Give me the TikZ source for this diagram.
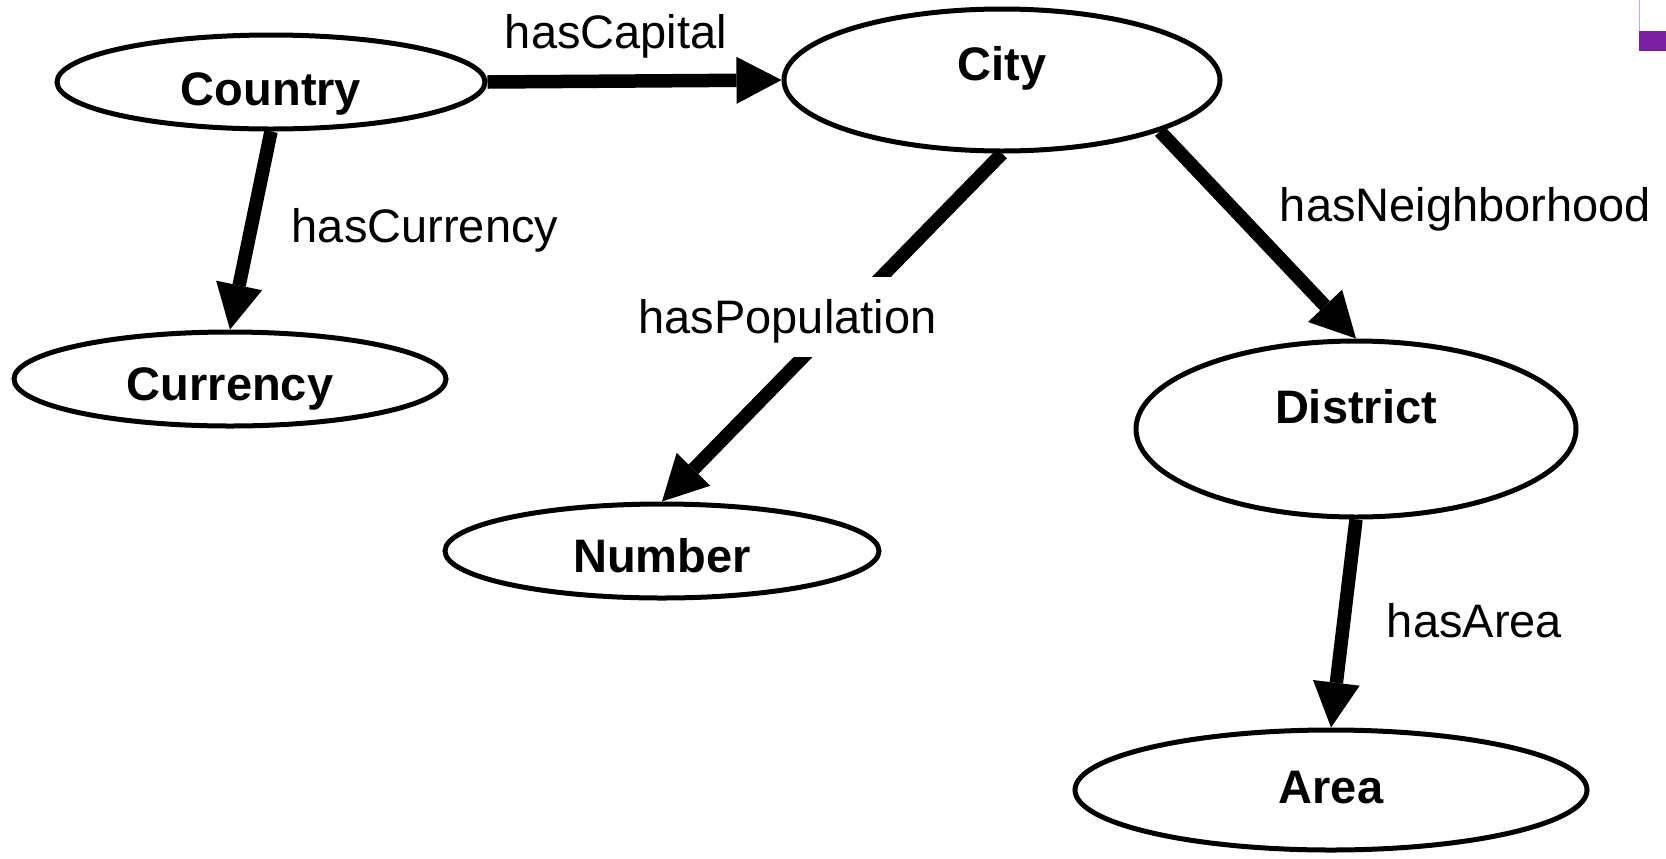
\documentclass[tikz,border=0pt]{standalone}
\usepackage{fontspec}
\setmainfont{Liberation Sans}
\usetikzlibrary{arrows.meta,shapes.geometric}
\definecolor{accent}{HTML}{7B1FA2}
\definecolor{accentlight}{HTML}{C9A9D9}
\begin{document}
\begin{tikzpicture}[x=0.5pt,y=-0.5pt,
  entity/.style={draw, ellipse, line width=2.5pt, inner sep=0pt,
    text height=0pt, text depth=0pt,
    font=\fontsize{23.5}{28}\selectfont\bfseries},
  conn/.style={line width=6.75pt,
    -{Triangle[length=22.5pt,width=23.5pt,line width=0pt]}},
  rel/.style={font=\fontsize{23.5}{28}\selectfont, inner sep=0pt, anchor=base}]
\useasboundingbox (0,0) rectangle (1666,858);

% corner mark
\draw[accentlight, line width=0.6pt] (1639.5,0) -- (1639.5,31);
\fill[accent] (1639,31) rectangle (1666,51);

% classes
\node[entity, minimum width=214pt, minimum height=47pt] (country)  at (271,82)   {\raisebox{-11.5pt}{Country}};
\node[entity, minimum width=218pt, minimum height=71pt] (city)     at (1002,80)  {City};
\node[entity, minimum width=216pt, minimum height=47pt] (currency) at (230,379)  {\raisebox{-10.5pt}{Currency}};
\node[entity, minimum width=217pt, minimum height=47pt] (number)   at (662,551)  {\raisebox{-10.5pt}{Number}};
\node[entity, minimum width=220pt, minimum height=88pt] (district) at (1356,429) {\raisebox{3pt}{District}};
\node[entity, minimum width=256pt, minimum height=60pt] (area)     at (1331,790) {\raisebox{-6.5pt}{Area}};

% properties
\draw[conn] (country.east) -- (city.west);
\draw[conn] (country.south) -- (currency.north);
\draw[conn] (city.south) -- (number.north);
\draw[conn] (city.-18.5) -- (district.north);
\draw[conn] (district.south) -- (area.north);

% property labels
\node[rel] (lcap)  at (616,48)    {hasCapital};
\node[rel] (lcur)  at (425,242)   {hasCurrency};
\node[rel, fill=white, text height=28pt, text depth=12pt] (lpop) at (787.5,333) {hasPopulation};
\node[rel] (lnei)  at (1465.5,221) {hasNeighborhood};
\node[rel] (larea) at (1474.5,637) {hasArea};
\end{tikzpicture}
\end{document}
